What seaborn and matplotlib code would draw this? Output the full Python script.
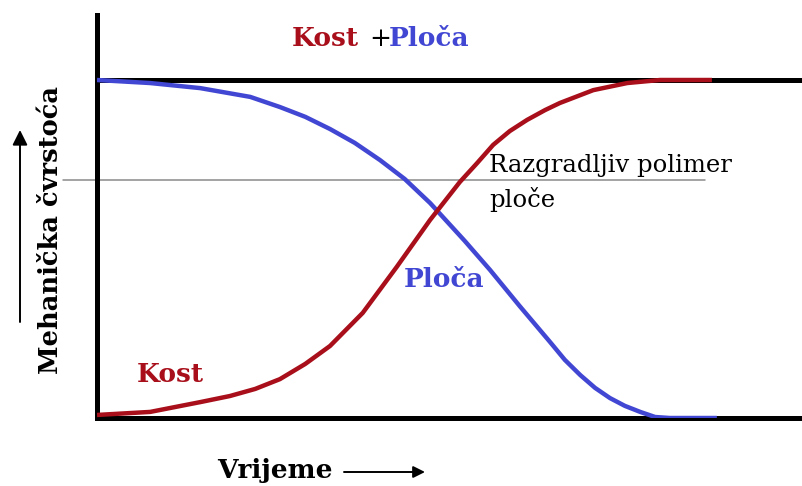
import matplotlib
matplotlib.use("Agg")
import matplotlib.pyplot as plt
import seaborn as sns
import pandas as pd

# ---- data (time in arbitrary units, strength in %) ----
ploca_time = [0.00, 0.86, 1.67, 2.48, 2.96, 3.37, 3.77, 4.17, 4.58, 4.98, 5.39, 5.95, 6.36,
              6.84, 7.33, 7.57, 7.82, 8.06, 8.30, 8.54, 8.79, 9.03, 9.27, 10.03]
ploca_strength = [100.0, 99.1, 97.6, 95.0, 92.0, 89.1, 85.5, 81.4, 76.3, 70.7, 63.6, 52.4, 43.8,
                  33.1, 22.5, 17.2, 12.7, 8.9, 5.9, 3.6, 1.8, 0.3, 0.0, 0.0]
kost_time = [0.00, 0.86, 1.67, 2.15, 2.56, 2.96, 3.37, 3.77, 4.30, 4.85, 5.39, 5.87, 6.15,
             6.41, 6.68, 6.96, 7.25, 7.49, 8.03, 8.58, 9.11, 9.95]
kost_strength = [0.9, 1.8, 4.7, 6.5, 8.6, 11.5, 16.0, 21.3, 31.1, 44.7, 58.6, 69.8, 75.4,
                 80.8, 84.9, 88.2, 91.1, 93.2, 97.0, 99.1, 100.0, 100.0]
polymer_level = 70.4
polymer_span = [-0.55, 9.84]

title_kost = "Kost"
title_plus = "+"
title_ploca = "Ploča"
label_kost = "Kost"
label_ploca = "Ploča"
polymer_line1 = "Razgradljiv polimer"
polymer_line2 = "ploče"
ylabel_text = "Mehanička čvrstoća"
xlabel_text = "Vrijeme"

RED = "#A80F1A"
BLUE = "#4247D3"

sns.set_style("white")
plt.rcParams['font.family'] = ['DejaVu Serif', 'DejaVu Sans']

W, H = 802, 486
fig = plt.figure(figsize=(W / 100, H / 100), dpi=100)
# axes: left edge px 97, bottom px 418, top px 15, right px 802
ax = fig.add_axes([97 / W, (H - 418) / H, (W - 97) / W, (418 - 15) / H])
ax.set_xlim(0, 705 / 61.8)
ax.set_ylim(0, 403 / 3.38)

df_p = pd.DataFrame({"t": ploca_time, "s": ploca_strength})
df_k = pd.DataFrame({"t": kost_time, "s": kost_strength})

ax.axhline(100, color="black", lw=3.6, zorder=2)
ax.plot(polymer_span, [polymer_level, polymer_level], color="#8a8a8a", lw=1.1,
        clip_on=False, zorder=2)
sns.lineplot(data=df_p, x="t", y="s", sort=False, color=BLUE, lw=3.2, ax=ax, zorder=3,
             solid_joinstyle="round", solid_capstyle="butt")
sns.lineplot(data=df_k, x="t", y="s", sort=False, color=RED, lw=3.2, ax=ax, zorder=3,
             solid_joinstyle="round", solid_capstyle="butt")

for side in ["top", "right"]:
    ax.spines[side].set_visible(False)
for side in ["left", "bottom"]:
    ax.spines[side].set_color("black")
    ax.spines[side].set_linewidth(3.6)
    ax.spines[side].set_zorder(2)
ax.set_xticks([])
ax.set_yticks([])
ax.set_xlabel("")
ax.set_ylabel("")

def fx(x):
    return x / W

def fy(y):
    return 1 - y / H

bold = dict(fontsize=19, fontweight="bold", family=['DejaVu Serif', 'DejaVu Sans'])
fig.text(fx(292), fy(46), title_kost, color=RED, ha="left", va="baseline", **bold)
fig.text(fx(369), fy(46), title_plus, color="black", ha="left", va="baseline",
         fontsize=19, family=['DejaVu Serif'])
fig.text(fx(389), fy(46), title_ploca, color=BLUE, ha="left", va="baseline", **bold)
fig.text(fx(137), fy(382), label_kost, color=RED, ha="left", va="baseline", **bold)
fig.text(fx(404), fy(287), label_ploca, color=BLUE, ha="left", va="baseline", **bold)
fig.text(fx(489), fy(172), polymer_line1, color="black", ha="left", va="baseline",
         fontsize=17.5, family=['DejaVu Serif'])
fig.text(fx(489), fy(207), polymer_line2, color="black", ha="left", va="baseline",
         fontsize=17.5, family=['DejaVu Serif'])
fig.text(fx(51), fy(230), ylabel_text, color="black", ha="center", va="center",
         rotation=90, fontsize=18.5, fontweight="bold", family=['DejaVu Serif', 'DejaVu Sans'])
fig.text(fx(217), fy(478), xlabel_text, color="black", ha="left", va="baseline", **bold)

ax.annotate("", xy=(20, H - 130), xytext=(20, H - 322), xycoords="figure pixels",
            textcoords="figure pixels",
            arrowprops=dict(arrowstyle="-|>,head_length=0.9,head_width=0.45",
                            color="black", lw=1.4, shrinkA=0, shrinkB=0))
ax.annotate("", xy=(425, H - 472), xytext=(344, H - 472), xycoords="figure pixels",
            textcoords="figure pixels",
            arrowprops=dict(arrowstyle="-|>,head_length=0.7,head_width=0.35",
                            color="black", lw=1.4, shrinkA=0, shrinkB=0))

fig.savefig("out.png", dpi=100)
